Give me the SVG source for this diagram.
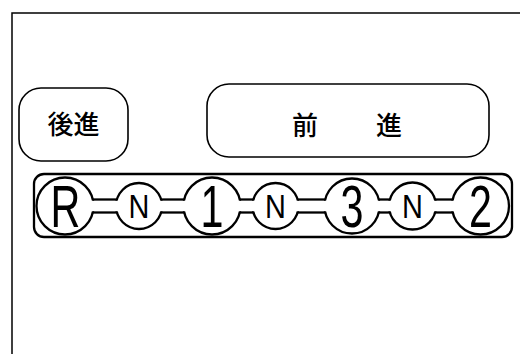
<svg xmlns="http://www.w3.org/2000/svg" width="520" height="354" viewBox="0 0 520 354">
  <style>
    .frame{fill:none;stroke:#000;stroke-width:1.5}
    .box{fill:#fff;stroke:#000;stroke-width:1.6}
    .bar{fill:#fff;stroke:#000;stroke-width:2.3}
    .pos{fill:#fff;stroke:#000;stroke-width:2.3}
    .gap{fill:#fff;stroke:none}
    .rail{stroke:#000;stroke-width:2.3}
    .jp{font-family:"Noto Sans CJK JP","Noto Sans CJK SC",sans-serif;font-size:26px;font-weight:500;fill:#000}
    .big{font-family:"Liberation Sans",Arial,sans-serif;font-size:59px;fill:#000;text-anchor:middle}
    .small{font-family:"Liberation Sans",Arial,sans-serif;font-size:34px;fill:#000;text-anchor:middle}
  </style>
  <rect width="520" height="354" fill="#fff"/>
  <rect class="frame" x="12" y="13" width="540" height="380"/>

  <g id="reverse">
    <rect class="box" x="19" y="88" width="109" height="73" rx="22"/>
    <text class="jp" x="73.5" y="133.5" text-anchor="middle">後進</text>
  </g>
  <g id="forward">
    <rect class="box" x="207" y="84" width="282" height="73" rx="22"/>
    <text class="jp" x="292" y="135" letter-spacing="2">前　　進</text>
  </g>

  <g id="gate">
    <rect class="bar" x="34" y="174" width="478" height="63" rx="10"/>
  </g>

  <g id="pos-R"><circle class="pos" cx="65" cy="206" r="28.5"/></g>
  <g id="pos-N1"><circle class="pos" cx="139" cy="206" r="23"/></g>
  <g id="pos-1"><circle class="pos" cx="212" cy="206" r="28.5"/></g>
  <g id="pos-N2"><circle class="pos" cx="275.5" cy="206" r="23"/></g>
  <g id="pos-3"><circle class="pos" cx="352" cy="206" r="27.5"/></g>
  <g id="pos-N3"><circle class="pos" cx="412.5" cy="206" r="23.5"/></g>
  <g id="pos-2"><circle class="pos" cx="480.5" cy="206" r="28.5"/></g>

  <g id="connectors">
    <rect class="gap" x="90" y="200.7" width="30" height="10.6"/>
    <line class="rail" x1="92.75" y1="199.5" x2="116.9" y2="199.5"/>
    <line class="rail" x1="92.75" y1="212.5" x2="116.9" y2="212.5"/>
    <rect class="gap" x="158" y="200.7" width="29" height="10.6"/>
    <line class="rail" x1="161.1" y1="199.5" x2="184.25" y2="199.5"/>
    <line class="rail" x1="161.1" y1="212.5" x2="184.25" y2="212.5"/>
    <rect class="gap" x="237" y="200.7" width="20" height="10.6"/>
    <line class="rail" x1="239.75" y1="199.5" x2="253.4" y2="199.5"/>
    <line class="rail" x1="239.75" y1="212.5" x2="253.4" y2="212.5"/>
    <rect class="gap" x="294.5" y="200.7" width="34" height="10.6"/>
    <line class="rail" x1="297.6" y1="199.5" x2="325.3" y2="199.5"/>
    <line class="rail" x1="297.6" y1="212.5" x2="325.3" y2="212.5"/>
    <rect class="gap" x="376" y="200.7" width="17" height="10.6"/>
    <line class="rail" x1="378.7" y1="199.5" x2="389.9" y2="199.5"/>
    <line class="rail" x1="378.7" y1="212.5" x2="389.9" y2="212.5"/>
    <rect class="gap" x="432" y="200.7" width="24" height="10.6"/>
    <line class="rail" x1="435.1" y1="199.5" x2="452.75" y2="199.5"/>
    <line class="rail" x1="435.1" y1="212.5" x2="452.75" y2="212.5"/>
  </g>

  <g id="labels">
    <text class="big" transform="translate(65.5 227) scale(0.7 1)">R</text>
    <text class="small" transform="translate(139 218) scale(0.85 1)">N</text>
    <text class="big" transform="translate(212 227) scale(0.7 1)">1</text>
    <text class="small" transform="translate(275.5 218) scale(0.85 1)">N</text>
    <text class="big" transform="translate(352 227) scale(0.7 1)">3</text>
    <text class="small" transform="translate(412.5 218) scale(0.85 1)">N</text>
    <text class="big" transform="translate(480.5 227) scale(0.7 1)">2</text>
  </g>
</svg>
